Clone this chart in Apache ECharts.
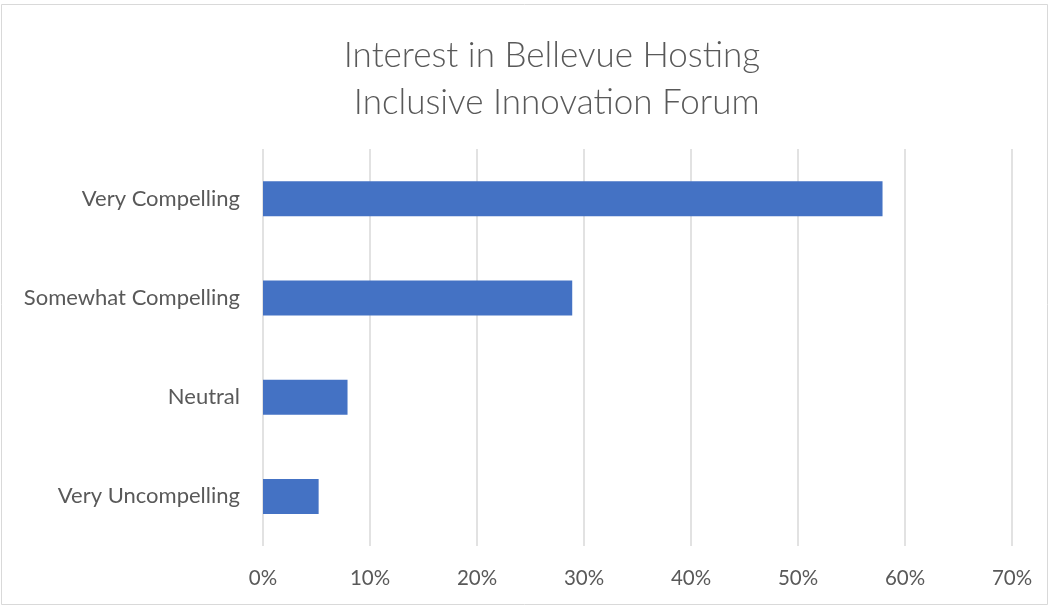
<!DOCTYPE html>
<html>
<head>
<meta charset="utf-8">
<script src="https://cdn.jsdelivr.net/npm/echarts@6/dist/echarts.min.js"></script>
<style>html,body{margin:0;padding:0;background:#fff;}#c{width:1050px;height:607px;}</style>
</head>
<body>
<div id="c"></div>
<script>
const categories = ["Very Compelling", "Somewhat Compelling", "Neutral", "Very Uncompelling"];
const values = [57.9, 28.9, 7.9, 5.2];
const titleLines = ["Interest in Bellevue Hosting", " Inclusive Innovation Forum"];

const chart = echarts.init(document.getElementById('c'), null, {renderer: 'canvas'});
const font = 'Lato, "Open Sans", sans-serif';
chart.setOption({
  backgroundColor: '#fff',
  animation: false,
  title: {
    text: titleLines.join('\n'),
    left: 547, top: 27, textAlign: 'center',
    textStyle: {fontFamily: font, fontWeight: 300, fontSize: 35, color: '#595959', lineHeight: 47}
  },
  graphic: [{
    type: 'rect', shape: {x: 1.5, y: 4.5, width: 1046, height: 600},
    style: {fill: 'none', stroke: '#d9d9d9', lineWidth: 1}, silent: true, z: -1
  }],
  grid: {left: 263, right: 38, top: 149, bottom: 61, containLabel: false},
  xAxis: {
    type: 'value', min: 0, max: 70, interval: 10,
    axisLine: {show: false}, axisTick: {show: false},
    axisLabel: {formatter: '{value}%', color: '#595959', fontFamily: font, fontSize: 20.5, margin: 22},
    splitLine: {show: true, lineStyle: {color: '#d9d9d9', width: 1.5}}
  },
  yAxis: {
    type: 'category', data: categories, inverse: true,
    axisLine: {show: false}, axisTick: {show: false},
    axisLabel: {color: '#595959', fontFamily: font, fontSize: 22, margin: 23}
  },
  series: [{
    type: 'bar', data: values, barWidth: 35,
    itemStyle: {color: '#4472c4'}
  }]
});
</script>
</body>
</html>
